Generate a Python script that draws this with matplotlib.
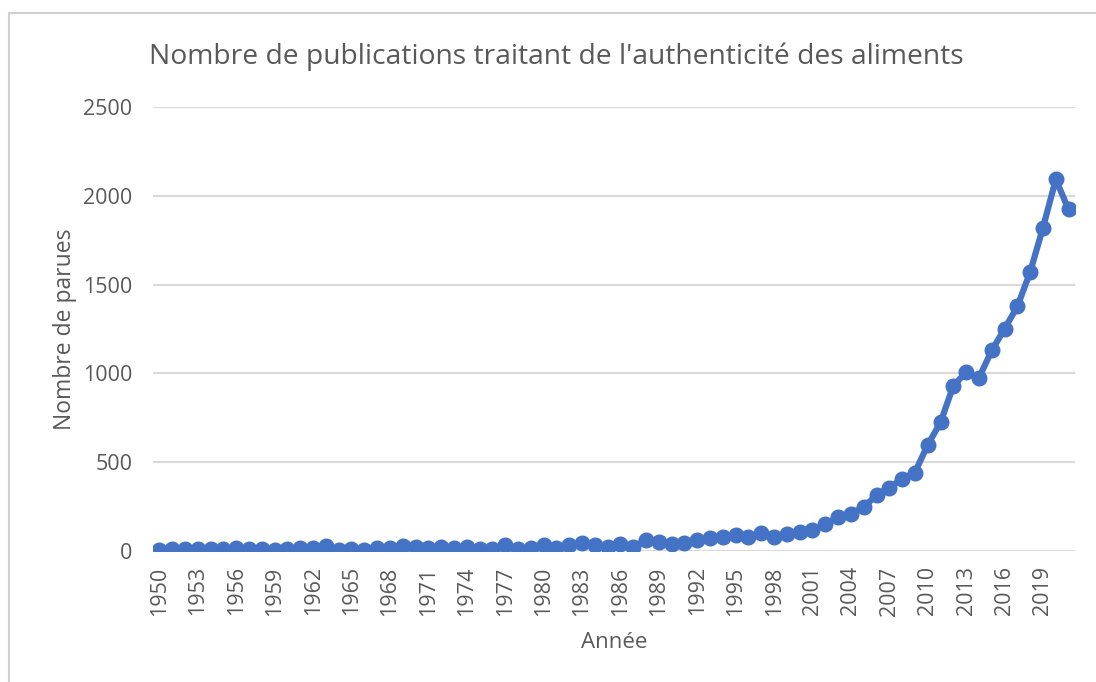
import numpy as np
import matplotlib
matplotlib.use("Agg")
import matplotlib.pyplot as plt
from matplotlib.patches import Rectangle

# publications per year
years = list(range(1950, 2022))
counts = [5, 9, 9, 11, 9, 11, 19, 9, 9, 6,
          11, 15, 19, 30, 6, 11, 6, 15, 19, 28,
          24, 15, 24, 15, 20, 12, 10, 34, 9, 19,
          34, 19, 34, 43, 34, 24, 40, 24, 62, 53,
          40, 43, 62, 71, 77, 90, 81, 100, 78, 98,
          107, 118, 150, 192, 211, 248, 314, 357, 405, 442,
          598, 724, 931, 1006, 975, 1129, 1251, 1377, 1571, 1821, 2092, 1923]
yticks = [0, 500, 1000, 1500, 2000, 2500]

title = "Nombre de publications traitant de l'authenticité des aliments"
xlabel = "Année"
ylabel = "Nombre de parues"

blue = "#4472C4"
grey_txt = "#595959"
grid_col = "#D9D9D9"

plt.rcParams['font.family'] = ['Open Sans', 'DejaVu Sans']

fig = plt.figure(figsize=(10.96, 6.82), dpi=100)
W, H = 1096, 682

# chart frame (cropped excel-style border)
fig.patches.append(Rectangle((9 / W, -0.1), 1.2, (H - 13) / H + 0.1,
                             transform=fig.transFigure, fill=False,
                             edgecolor="#D0D0D0", linewidth=1.5))

ax = fig.add_axes([153 / W, 131 / H, (1075 - 153) / W, (551 - 107) / H])

x = np.arange(len(years))
ax.plot(x, counts, color=blue, linewidth=4.5, marker="o", markersize=10.5,
        markerfacecolor=blue, markeredgecolor=blue, solid_joinstyle="round", zorder=3)

ax.set_xlim(-0.5, len(years) - 0.5)
ax.set_ylim(0, 2500)
ax.set_yticks(yticks)
ax.set_yticklabels([str(v) for v in yticks])
ax.set_xticks(x[::3])
ax.set_xticklabels([str(years[i]) for i in range(0, len(years), 3)], rotation=90)

ax.yaxis.grid(True, color=grid_col, linewidth=1.5)
ax.set_axisbelow(True)
for s in ax.spines.values():
    s.set_visible(False)
ax.tick_params(axis="both", length=0, labelsize=15.5, colors=grey_txt)
ax.tick_params(axis="y", pad=15)
ax.tick_params(axis="x", pad=11)

ax.set_xlabel(xlabel, fontsize=16, color=grey_txt, labelpad=12)
ax.set_ylabel(ylabel, fontsize=16.5, color=grey_txt, labelpad=4)
fig.text(0.5 * (150 + 962) / W, 1 - 57 / H, title, fontsize=20.3, color=grey_txt,
         ha="center", va="center")

fig.savefig("out.png", dpi=100)
